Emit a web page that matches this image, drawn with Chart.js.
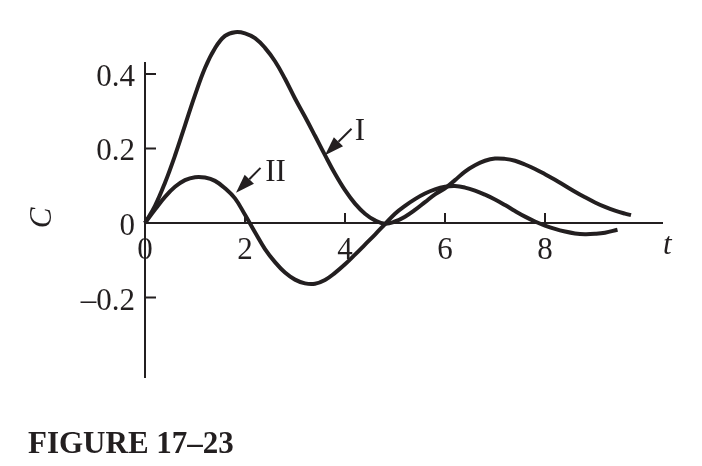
<!DOCTYPE html>
<html>
<head>
<meta charset="utf-8">
<script src="https://cdn.jsdelivr.net/npm/chart.js@4.4.1/dist/chart.umd.min.js"></script>
<style>
	body { margin: 0; background: #fff; }
	#wrap { position: relative; width: 702px; height: 466px; }
	#caption {
		position: absolute; left: 28px; top: 427px;
		font: bold 31px/31px "Liberation Serif", "Times New Roman", serif;
		color: #231f20; white-space: nowrap;
	}
</style>
</head>
<body>
<div id="wrap">
	<canvas id="myChart" width="702" height="466"></canvas>
	<div id="caption">FIGURE 17–23</div>
</div>
<script>
//+++++++++++++++++++++++ Start:data +++++++++++++++++++++++
var tI = [0, 0.2, 0.4, 0.6, 0.8, 1.0, 1.2, 1.4, 1.6, 1.8, 2.0, 2.2, 2.4, 2.6, 2.8, 3.0, 3.2, 3.4, 3.6, 3.8,
	4.0, 4.2, 4.4, 4.6, 4.8, 5.0, 5.2, 5.4, 5.6, 5.8, 6.0, 6.2, 6.4, 6.6, 6.8, 7.0, 7.2, 7.4, 7.6, 7.8,
	8.0, 8.2, 8.4, 8.6, 8.8, 9.0, 9.2, 9.4, 9.6, 9.72];
var cI = [0, 0.046, 0.108, 0.181, 0.262, 0.343, 0.416, 0.469, 0.502, 0.512, 0.509, 0.496, 0.470, 0.434, 0.387, 0.334, 0.285, 0.234, 0.182, 0.132,
	0.088, 0.052, 0.025, 0.007, -0.002, 0.004, 0.017, 0.035, 0.056, 0.077, 0.093, 0.115, 0.138, 0.155, 0.167, 0.173, 0.172, 0.167, 0.157, 0.145,
	0.131, 0.116, 0.100, 0.084, 0.069, 0.055, 0.043, 0.033, 0.025, 0.021];

var tII = [0, 0.2, 0.4, 0.6, 0.8, 1.0, 1.2, 1.4, 1.6, 1.8, 2.0, 2.2, 2.4, 2.6, 2.8, 3.0, 3.2, 3.4, 3.6, 3.8,
	4.0, 4.2, 4.4, 4.6, 4.8, 5.0, 5.2, 5.4, 5.6, 5.8, 6.0, 6.2, 6.4, 6.6, 6.8, 7.0, 7.2, 7.4, 7.6, 7.8,
	8.0, 8.2, 8.4, 8.6, 8.8, 9.0, 9.2, 9.45];
var cII = [0, 0.036, 0.070, 0.097, 0.115, 0.123, 0.122, 0.113, 0.093, 0.066, 0.022, -0.025, -0.070, -0.105, -0.133, -0.152, -0.162, -0.163, -0.153, -0.134,
	-0.111, -0.085, -0.058, -0.031, -0.003, 0.025, 0.046, 0.064, 0.079, 0.090, 0.097, 0.099, 0.095, 0.087, 0.076, 0.063, 0.048, 0.032, 0.017, 0.004,
	-0.007, -0.016, -0.023, -0.028, -0.030, -0.029, -0.026, -0.018];

var xTicks = [0, 2, 4, 6, 8];
var xTickLabels = ['0', '2', '4', '6', '8'];
var yTicks = [-0.2, 0, 0.2, 0.4];
var yTickLabels = ['–0.2', '0', '0.2', '0.4'];

// curve labels: text anchor and arrow tail -> tip, in (t, C)
var curveNames = ['I', 'II'];
var nameAt = [[4.3, 0.252], [2.61, 0.141]];
var arrowFrom = [[4.13, 0.253], [2.31, 0.148]];
var arrowTo = [[3.6, 0.182], [1.82, 0.081]];
//-------------------- End:data --------------------

var ink = '#231f20';
var serif = '"Liberation Serif", "Times New Roman", serif';

function pairs(xs, ys) {
	return xs.map(function (x, i) { return { x: x, y: ys[i] }; });
}

//+++++++++++++++++++++++ Start:axes plugin +++++++++++++++++++++++
var axesPlugin = {
	id: 'figAxes',
	beforeDatasetsDraw: function (chart) {
		var ctx = chart.ctx, a = chart.chartArea;
		var xs = chart.scales.x, ys = chart.scales.y;
		var x0 = xs.getPixelForValue(0), y0 = ys.getPixelForValue(0);
		ctx.save();
		ctx.strokeStyle = ink;
		ctx.fillStyle = ink;
		ctx.lineWidth = 2;
		ctx.beginPath();
		ctx.moveTo(x0, a.top); ctx.lineTo(x0, a.bottom);
		ctx.moveTo(x0, y0); ctx.lineTo(a.right, y0);
		yTicks.forEach(function (v) {
			if (v === 0) return;
			var py = ys.getPixelForValue(v);
			ctx.moveTo(x0, py); ctx.lineTo(x0 + 11, py);
		});
		xTicks.forEach(function (v) {
			if (v === 0) return;
			var px = xs.getPixelForValue(v);
			ctx.moveTo(px, y0); ctx.lineTo(px, y0 - 10);
		});
		ctx.stroke();

		ctx.font = '31px ' + serif;
		ctx.textBaseline = 'alphabetic';
		ctx.textAlign = 'right';
		yTicks.forEach(function (v, i) {
			ctx.fillText(yTickLabels[i], x0 - 10, ys.getPixelForValue(v) + 12);
		});
		ctx.textAlign = 'center';
		xTicks.forEach(function (v, i) {
			ctx.fillText(xTickLabels[i], xs.getPixelForValue(v), y0 + 36);
		});

		// axis titles
		ctx.font = 'italic 31px ' + serif;
		ctx.textAlign = 'left';
		ctx.fillText('t', a.right, y0 + 31);
		ctx.save();
		ctx.translate(43, y0 - 5);
		ctx.rotate(-Math.PI / 2);
		ctx.textAlign = 'center';
		ctx.textBaseline = 'middle';
		ctx.fillText('C', 0, 0);
		ctx.restore();
		ctx.restore();
	},
	afterDatasetsDraw: function (chart) {
		var ctx = chart.ctx;
		var xs = chart.scales.x, ys = chart.scales.y;
		ctx.save();
		ctx.strokeStyle = ink;
		ctx.fillStyle = ink;
		ctx.lineWidth = 2;
		curveNames.forEach(function (name, i) {
			var fx = xs.getPixelForValue(arrowFrom[i][0]), fy = ys.getPixelForValue(arrowFrom[i][1]);
			var tx = xs.getPixelForValue(arrowTo[i][0]), ty = ys.getPixelForValue(arrowTo[i][1]);
			var ang = Math.atan2(ty - fy, tx - fx);
			var len = 19, half = 6.5;
			var bx = tx - len * Math.cos(ang), by = ty - len * Math.sin(ang);
			ctx.beginPath();
			ctx.moveTo(fx, fy); ctx.lineTo(bx, by);
			ctx.stroke();
			ctx.beginPath();
			ctx.moveTo(tx, ty);
			ctx.lineTo(bx + half * Math.sin(ang), by - half * Math.cos(ang));
			ctx.lineTo(bx - half * Math.sin(ang), by + half * Math.cos(ang));
			ctx.closePath();
			ctx.fill();

			ctx.font = '31px ' + serif;
			ctx.textAlign = 'center';
			ctx.textBaseline = 'alphabetic';
			ctx.fillText(name, xs.getPixelForValue(nameAt[i][0]), ys.getPixelForValue(nameAt[i][1]) + 11);
		});
		ctx.restore();
	}
};
//-------------------- End:axes plugin --------------------

//++++++++++++++++++++++ Start:Chartjs ++++++++++++++++++++++
var ctx = document.getElementById('myChart').getContext('2d');
var chart = new Chart(ctx, {
	type: 'scatter',
	data: {
		datasets: [{
			label: 'I',
			data: pairs(tI, cI),
			showLine: true,
			borderColor: ink,
			borderWidth: 4,
			pointRadius: 0,
			tension: 0.4,
			clip: false
		},
		{
			label: 'II',
			data: pairs(tII, cII),
			showLine: true,
			borderColor: ink,
			borderWidth: 4,
			pointRadius: 0,
			tension: 0.4,
			clip: false
		}]
	},
	options: {
		responsive: false,
		animation: false,
		layout: { padding: { left: 145, right: 39, top: 62, bottom: 88 } },
		plugins: {
			legend: { display: false },
			tooltip: { enabled: false }
		},
		scales: {
			x: { type: 'linear', min: 0, max: 10.36, display: false },
			y: { type: 'linear', min: -0.416, max: 0.432, display: false }
		}
	},
	plugins: [axesPlugin]
});
//-------------------- End:Chartjs --------------------
</script>
</body>
</html>
